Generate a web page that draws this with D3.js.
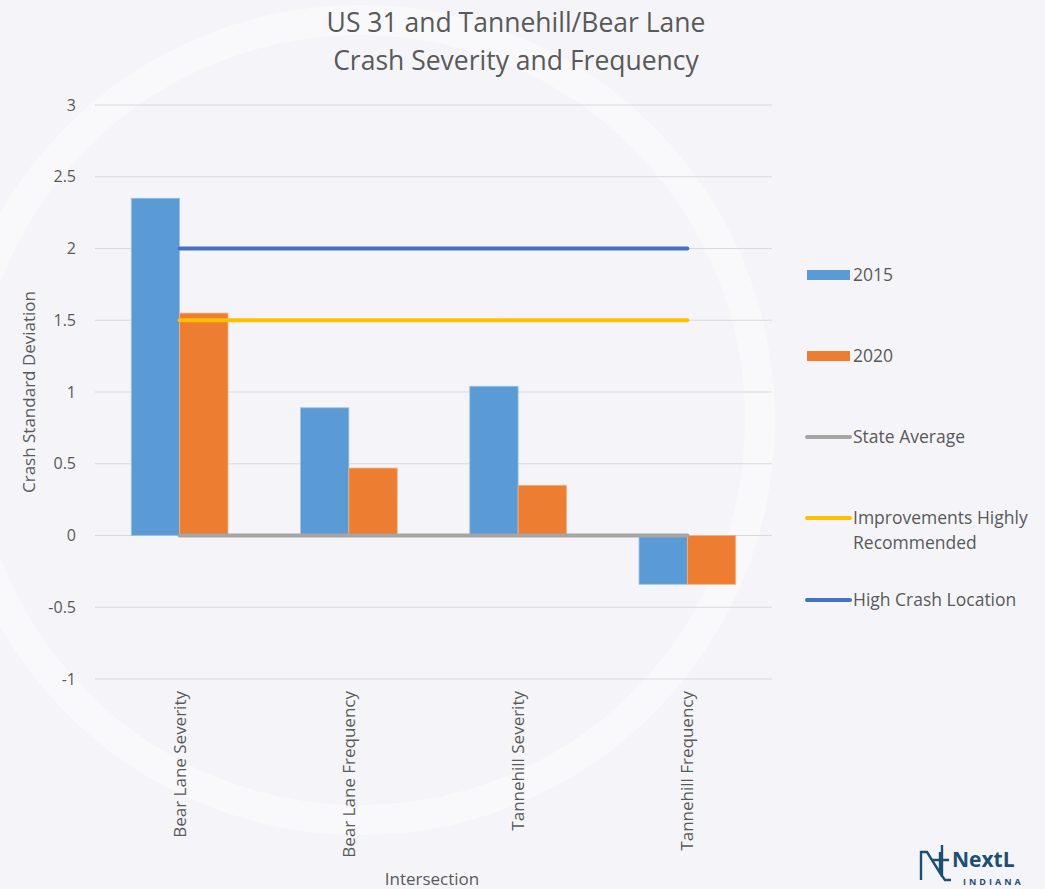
<!DOCTYPE html>
<html>
<head>
<meta charset="utf-8">
<script src="https://cdn.jsdelivr.net/npm/d3@7"></script>
<style>
  html, body { margin: 0; padding: 0; background: #f5f5f9; }
  svg { display: block; font-family: "Open Sans", sans-serif; }
</style>
</head>
<body>
<div id="chart"></div>
<script>
// data
const categories = ["Bear Lane Severity", "Bear Lane Frequency", "Tannehill Severity", "Tannehill Frequency"];
const years = ["2015", "2020"];
const values2015 = [2.35, 0.89, 1.04, -0.34];
const values2020 = [1.55, 0.47, 0.35, -0.34];
const stateAverage = [0, 0, 0, 0];
const improvements = [1.5, 1.5, 1.5, 1.5];
const highCrash = [2, 2, 2, 2];
const yTicks = [-1, -0.5, 0, 0.5, 1, 1.5, 2, 2.5, 3];

const W = 1045, H = 889;
const margin = {top: 105, right: 273, bottom: 210, left: 95};

const svg = d3.select("#chart").append("svg")
    .attr("width", W).attr("height", H);

// faint seal watermark
const wm = svg.append("g").attr("fill", "none").attr("stroke", "#ffffff");
wm.append("circle").attr("cx", 360).attr("cy", 420).attr("r", 400).attr("stroke-width", 30).attr("opacity", 0.45);

const x = d3.scaleBand()
    .domain(categories)
    .range([margin.left, W - margin.right]);

const x1 = d3.scaleBand()
    .domain(years)
    .range([0, x.bandwidth()])
    .paddingInner(0)
    .paddingOuter(0.75);

const y = d3.scaleLinear()
    .domain([-1, 3])
    .range([H - margin.bottom, margin.top]);

const textColor = "#595959";
const axisFont = "17px";

// gridlines
svg.append("g")
  .selectAll("line")
  .data(yTicks)
  .join("line")
    .attr("x1", margin.left)
    .attr("x2", W - margin.right)
    .attr("y1", d => y(d))
    .attr("y2", d => y(d))
    .attr("stroke", "#d9d9d9")
    .attr("stroke-width", 1);

// y axis labels
svg.append("g")
  .selectAll("text")
  .data(yTicks)
  .join("text")
    .attr("x", 76)
    .attr("y", d => y(d))
    .attr("dy", "0.35em")
    .attr("text-anchor", "end")
    .attr("fill", textColor)
    .style("font-size", "16px")
    .text(d => d);

// bars
const barColors = {"2015": "#5b9bd5", "2020": "#ed7d31"};
const barData = [];
categories.forEach((c, i) => {
  barData.push({cat: c, year: "2015", v: values2015[i]});
  barData.push({cat: c, year: "2020", v: values2020[i]});
});

svg.append("g")
  .selectAll("rect")
  .data(barData)
  .join("rect")
    .attr("x", d => x(d.cat) + x1(d.year))
    .attr("width", x1.bandwidth())
    .attr("y", d => y(Math.max(0, d.v)))
    .attr("height", d => Math.abs(y(d.v) - y(0)))
    .attr("fill", d => barColors[d.year])
    .attr("stroke", d => d.year === "2015" ? "#9cc3e6" : "#f4b183")
    .attr("stroke-width", 0.8);

// reference lines
const lineSeries = [
  {name: "State Average", vals: stateAverage, color: "#a5a5a5"},
  {name: "Improvements Highly Recommended", vals: improvements, color: "#ffc000"},
  {name: "High Crash Location", vals: highCrash, color: "#4472c4"}
];

const line = d3.line()
    .x((d, i) => x(categories[i]) + x.bandwidth() / 2)
    .y(d => y(d));

svg.append("g")
  .selectAll("path")
  .data(lineSeries)
  .join("path")
    .attr("d", d => line(d.vals))
    .attr("fill", "none")
    .attr("stroke", d => d.color)
    .attr("stroke-width", 4)
    .attr("stroke-linecap", "round");

// category labels
svg.append("g")
  .selectAll("text")
  .data(categories)
  .join("text")
    .attr("transform", d => `translate(${x(d) + x.bandwidth() / 2}, ${y(-1) + 12}) rotate(-90)`)
    .attr("text-anchor", "end")
    .attr("dy", "0.35em")
    .attr("fill", textColor)
    .style("font-size", axisFont)
    .text(d => d);

// axis titles
svg.append("text")
    .attr("x", 432)
    .attr("y", 885)
    .attr("text-anchor", "middle")
    .attr("fill", textColor)
    .style("font-size", axisFont)
    .text("Intersection");

svg.append("text")
    .attr("transform", `translate(35, ${y(1)}) rotate(-90)`)
    .attr("text-anchor", "middle")
    .attr("fill", textColor)
    .style("font-size", axisFont)
    .text("Crash Standard Deviation");

// title
const title = svg.append("text")
    .attr("x", 516)
    .attr("text-anchor", "middle")
    .attr("fill", textColor)
    .style("font-size", "26.5px");
title.append("tspan").attr("x", 516).attr("y", 32).text("US 31 and Tannehill/Bear Lane");
title.append("tspan").attr("x", 516).attr("y", 70).text("Crash Severity and Frequency");

// legend
const legend = svg.append("g").style("font-size", "17.5px").attr("fill", textColor);
const legendItems = [
  {label: ["2015"], type: "bar", color: barColors["2015"], ly: 275},
  {label: ["2020"], type: "bar", color: barColors["2020"], ly: 356},
  {label: ["State Average"], type: "line", color: "#a5a5a5", ly: 437},
  {label: ["Improvements Highly", "Recommended"], type: "line", color: "#ffc000", ly: 518},
  {label: ["High Crash Location"], type: "line", color: "#4472c4", ly: 600}
];

legendItems.forEach(it => {
  if (it.type === "bar") {
    legend.append("rect")
      .attr("x", 807).attr("y", it.ly - 5)
      .attr("width", 43).attr("height", 10)
      .attr("fill", it.color);
  } else {
    legend.append("line")
      .attr("x1", 807).attr("x2", 850)
      .attr("y1", it.ly).attr("y2", it.ly)
      .attr("stroke", it.color)
      .attr("stroke-width", 4)
      .attr("stroke-linecap", "round");
  }
  it.label.forEach((l, j) => {
    legend.append("text")
      .attr("x", 853)
      .attr("y", it.ly + j * 25)
      .attr("dy", "0.35em")
      .text(l);
  });
});

// logo corner
const logo = svg.append("g").attr("transform", "translate(920, 845)");
logo.append("path")
    .attr("d", "M1,35 V7 H7 L20,28 V7 M20,28 L25,35 H31 M12,15 H29 M22,0 V31")
    .attr("fill", "none")
    .attr("stroke", "#1d4f73")
    .attr("stroke-width", 2.4);
logo.append("text")
    .attr("x", 32).attr("y", 22)
    .attr("fill", "#1d4f73")
    .style("font-size", "21px")
    .style("font-weight", "bold")
    .text("NextL");
logo.append("text")
    .attr("x", 43).attr("y", 40)
    .attr("fill", "#1d4f73")
    .style("font-size", "9px")
    .style("font-weight", "bold")
    .style("letter-spacing", "3px")
    .text("INDIANA");
</script>
</body>
</html>
